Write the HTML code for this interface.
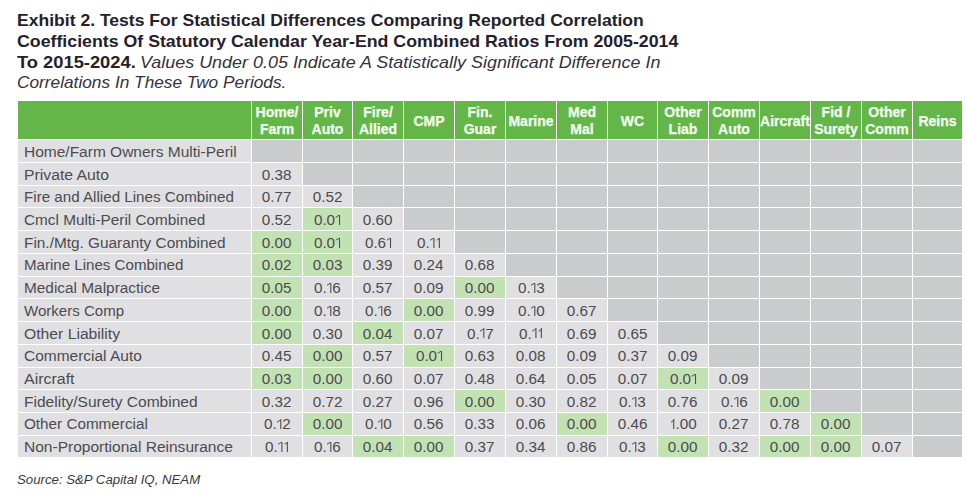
<!DOCTYPE html><html><head><meta charset="utf-8"><style>
html,body{margin:0;padding:0;background:#fff;width:967px;height:499px;overflow:hidden;position:relative;font-family:"Liberation Sans",sans-serif;}
.b{position:absolute;}
.t{position:absolute;white-space:nowrap;transform-origin:0 0;}
.h{position:absolute;white-space:nowrap;font-weight:bold;font-size:14px;line-height:14px;color:#f2fff0;text-align:center;-webkit-text-stroke:0.25px #f2fff0;}
.n{position:absolute;white-space:nowrap;font-size:14px;line-height:14px;color:#4b4b50;text-align:center;}
.o{display:inline-block;position:relative;width:5.10px;height:14px;vertical-align:top;color:transparent;}
.o::after{content:"";position:absolute;right:0.80px;top:1.9px;width:1.25px;height:10px;background:#4b4b50;}
.o::before{content:"";position:absolute;right:1.75px;top:2.2px;width:2.6px;height:1.25px;background:#4b4b50;transform:skewY(-35deg);transform-origin:100% 0;}
.l{position:absolute;white-space:nowrap;font-size:14px;line-height:14px;color:#4b4b50;transform-origin:0 0;}
</style></head><body>
<div class="t" style="left:17px;top:11.6px;font-size:17px;line-height:17px;color:#24212b;transform:scaleX(1.0325);"><b>Exhibit 2. Tests For Statistical Differences Comparing Reported Correlation</b></div>
<div class="t" style="left:17px;top:32.6px;font-size:17px;line-height:17px;color:#24212b;transform:scaleX(1.0438);"><b>Coefficients Of Statutory Calendar Year-End Combined Ratios From 2005-2014</b></div>
<div class="t" style="left:17px;top:53.6px;font-size:17px;line-height:17px;color:#24212b;transform:scaleX(1.0770);"><b>To 2015-2024.</b></div>
<div class="t" style="left:140px;top:53.6px;font-size:17px;line-height:17px;color:#24212b;transform:scaleX(1.0550)"><i style="color:#34323c">Values Under 0.05 Indicate A Statistically Significant Difference In</i></div>
<div class="t" style="left:17px;top:73.6px;font-size:17px;line-height:17px;color:#24212b;transform:scaleX(1.0157);"><i style="color:#34323c">Correlations In These Two Periods.</i></div>
<div class="b" style="left:18px;top:101px;width:944px;height:38px;background:#64b649"></div>
<div class="b" style="left:251px;top:101px;width:1px;height:355px;background:#fff"></div>
<div class="b" style="left:302px;top:101px;width:1px;height:355px;background:#fff"></div>
<div class="b" style="left:352px;top:101px;width:1px;height:355px;background:#fff"></div>
<div class="b" style="left:403px;top:101px;width:1px;height:355px;background:#fff"></div>
<div class="b" style="left:454px;top:101px;width:1px;height:355px;background:#fff"></div>
<div class="b" style="left:505px;top:101px;width:1px;height:355px;background:#fff"></div>
<div class="b" style="left:556px;top:101px;width:1px;height:355px;background:#fff"></div>
<div class="b" style="left:607px;top:101px;width:1px;height:355px;background:#fff"></div>
<div class="b" style="left:657px;top:101px;width:1px;height:355px;background:#fff"></div>
<div class="b" style="left:708px;top:101px;width:1px;height:355px;background:#fff"></div>
<div class="b" style="left:759px;top:101px;width:1px;height:355px;background:#fff"></div>
<div class="b" style="left:810px;top:101px;width:1px;height:355px;background:#fff"></div>
<div class="b" style="left:861px;top:101px;width:1px;height:355px;background:#fff"></div>
<div class="b" style="left:912px;top:101px;width:1px;height:355px;background:#fff"></div>
<div class="h" style="left:252px;top:105.05px;width:50px">Home/</div>
<div class="h" style="left:252px;top:122.45px;width:50px">Farm</div>
<div class="h" style="left:303px;top:105.05px;width:49px">Priv</div>
<div class="h" style="left:303px;top:122.45px;width:49px">Auto</div>
<div class="h" style="left:353px;top:105.05px;width:50px">Fire/</div>
<div class="h" style="left:353px;top:122.45px;width:50px">Allied</div>
<div class="h" style="left:404px;top:114.35px;width:50px">CMP</div>
<div class="h" style="left:455px;top:105.05px;width:50px">Fin.</div>
<div class="h" style="left:455px;top:122.45px;width:50px">Guar</div>
<div class="h" style="left:506px;top:114.35px;width:50px">Marine</div>
<div class="h" style="left:557px;top:105.05px;width:50px">Med</div>
<div class="h" style="left:557px;top:122.45px;width:50px">Mal</div>
<div class="h" style="left:608px;top:114.35px;width:49px">WC</div>
<div class="h" style="left:658px;top:105.05px;width:50px">Other</div>
<div class="h" style="left:658px;top:122.45px;width:50px">Liab</div>
<div class="h" style="left:709px;top:105.05px;width:50px">Comm</div>
<div class="h" style="left:709px;top:122.45px;width:50px">Auto</div>
<div class="h" style="left:760px;top:114.35px;width:50px">Aircraft</div>
<div class="h" style="left:811px;top:105.05px;width:50px">Fid /</div>
<div class="h" style="left:811px;top:122.45px;width:50px">Surety</div>
<div class="h" style="left:862px;top:105.05px;width:50px">Other</div>
<div class="h" style="left:862px;top:122.45px;width:50px">Comm</div>
<div class="h" style="left:913px;top:114.35px;width:49px">Reins</div>
<div class="b" style="left:18px;top:140px;width:233px;height:22px;background:#e0e0e2"></div>
<div class="l" style="left:23.7px;top:145.00px;transform:scaleX(1.107)">Home/Farm Owners Multi-Peril</div>
<div class="b" style="left:252px;top:140px;width:50px;height:22px;background:#cacbcd"></div>
<div class="b" style="left:303px;top:140px;width:49px;height:22px;background:#cacbcd"></div>
<div class="b" style="left:353px;top:140px;width:50px;height:22px;background:#cacbcd"></div>
<div class="b" style="left:404px;top:140px;width:50px;height:22px;background:#cacbcd"></div>
<div class="b" style="left:455px;top:140px;width:50px;height:22px;background:#cacbcd"></div>
<div class="b" style="left:506px;top:140px;width:50px;height:22px;background:#cacbcd"></div>
<div class="b" style="left:557px;top:140px;width:50px;height:22px;background:#cacbcd"></div>
<div class="b" style="left:608px;top:140px;width:49px;height:22px;background:#cacbcd"></div>
<div class="b" style="left:658px;top:140px;width:50px;height:22px;background:#cacbcd"></div>
<div class="b" style="left:709px;top:140px;width:50px;height:22px;background:#cacbcd"></div>
<div class="b" style="left:760px;top:140px;width:50px;height:22px;background:#cacbcd"></div>
<div class="b" style="left:811px;top:140px;width:50px;height:22px;background:#cacbcd"></div>
<div class="b" style="left:862px;top:140px;width:50px;height:22px;background:#cacbcd"></div>
<div class="b" style="left:913px;top:140px;width:49px;height:22px;background:#cacbcd"></div>
<div class="b" style="left:18px;top:163px;width:233px;height:22px;background:#e0e0e2"></div>
<div class="l" style="left:23.7px;top:167.70px;transform:scaleX(1.126)">Private Auto</div>
<div class="b" style="left:252px;top:163px;width:50px;height:22px;background:#e0e0e2"></div>
<div class="n" style="left:252px;top:167.70px;width:50px"><span style="display:inline-block;transform:scaleX(1.09)">0.38</span></div>
<div class="b" style="left:303px;top:163px;width:49px;height:22px;background:#cacbcd"></div>
<div class="b" style="left:353px;top:163px;width:50px;height:22px;background:#cacbcd"></div>
<div class="b" style="left:404px;top:163px;width:50px;height:22px;background:#cacbcd"></div>
<div class="b" style="left:455px;top:163px;width:50px;height:22px;background:#cacbcd"></div>
<div class="b" style="left:506px;top:163px;width:50px;height:22px;background:#cacbcd"></div>
<div class="b" style="left:557px;top:163px;width:50px;height:22px;background:#cacbcd"></div>
<div class="b" style="left:608px;top:163px;width:49px;height:22px;background:#cacbcd"></div>
<div class="b" style="left:658px;top:163px;width:50px;height:22px;background:#cacbcd"></div>
<div class="b" style="left:709px;top:163px;width:50px;height:22px;background:#cacbcd"></div>
<div class="b" style="left:760px;top:163px;width:50px;height:22px;background:#cacbcd"></div>
<div class="b" style="left:811px;top:163px;width:50px;height:22px;background:#cacbcd"></div>
<div class="b" style="left:862px;top:163px;width:50px;height:22px;background:#cacbcd"></div>
<div class="b" style="left:913px;top:163px;width:49px;height:22px;background:#cacbcd"></div>
<div class="b" style="left:18px;top:186px;width:233px;height:21px;background:#e0e0e2"></div>
<div class="l" style="left:23.7px;top:190.40px;transform:scaleX(1.083)">Fire and Allied Lines Combined</div>
<div class="b" style="left:252px;top:186px;width:50px;height:21px;background:#e0e0e2"></div>
<div class="n" style="left:252px;top:190.40px;width:50px"><span style="display:inline-block;transform:scaleX(1.09)">0.77</span></div>
<div class="b" style="left:303px;top:186px;width:49px;height:21px;background:#e0e0e2"></div>
<div class="n" style="left:303px;top:190.40px;width:49px"><span style="display:inline-block;transform:scaleX(1.09)">0.52</span></div>
<div class="b" style="left:353px;top:186px;width:50px;height:21px;background:#cacbcd"></div>
<div class="b" style="left:404px;top:186px;width:50px;height:21px;background:#cacbcd"></div>
<div class="b" style="left:455px;top:186px;width:50px;height:21px;background:#cacbcd"></div>
<div class="b" style="left:506px;top:186px;width:50px;height:21px;background:#cacbcd"></div>
<div class="b" style="left:557px;top:186px;width:50px;height:21px;background:#cacbcd"></div>
<div class="b" style="left:608px;top:186px;width:49px;height:21px;background:#cacbcd"></div>
<div class="b" style="left:658px;top:186px;width:50px;height:21px;background:#cacbcd"></div>
<div class="b" style="left:709px;top:186px;width:50px;height:21px;background:#cacbcd"></div>
<div class="b" style="left:760px;top:186px;width:50px;height:21px;background:#cacbcd"></div>
<div class="b" style="left:811px;top:186px;width:50px;height:21px;background:#cacbcd"></div>
<div class="b" style="left:862px;top:186px;width:50px;height:21px;background:#cacbcd"></div>
<div class="b" style="left:913px;top:186px;width:49px;height:21px;background:#cacbcd"></div>
<div class="b" style="left:18px;top:208px;width:233px;height:22px;background:#e0e0e2"></div>
<div class="l" style="left:23.7px;top:213.10px;transform:scaleX(1.094)">Cmcl Multi-Peril Combined</div>
<div class="b" style="left:252px;top:208px;width:50px;height:22px;background:#e0e0e2"></div>
<div class="n" style="left:252px;top:213.10px;width:50px"><span style="display:inline-block;transform:scaleX(1.09)">0.52</span></div>
<div class="b" style="left:303px;top:208px;width:49px;height:22px;background:#c3e2b4"></div>
<div class="n" style="left:303px;top:213.10px;width:49px"><span style="display:inline-block;transform:scaleX(1.09)">0.0<span class="o">1</span></span></div>
<div class="b" style="left:353px;top:208px;width:50px;height:22px;background:#e0e0e2"></div>
<div class="n" style="left:353px;top:213.10px;width:50px"><span style="display:inline-block;transform:scaleX(1.09)">0.60</span></div>
<div class="b" style="left:404px;top:208px;width:50px;height:22px;background:#cacbcd"></div>
<div class="b" style="left:455px;top:208px;width:50px;height:22px;background:#cacbcd"></div>
<div class="b" style="left:506px;top:208px;width:50px;height:22px;background:#cacbcd"></div>
<div class="b" style="left:557px;top:208px;width:50px;height:22px;background:#cacbcd"></div>
<div class="b" style="left:608px;top:208px;width:49px;height:22px;background:#cacbcd"></div>
<div class="b" style="left:658px;top:208px;width:50px;height:22px;background:#cacbcd"></div>
<div class="b" style="left:709px;top:208px;width:50px;height:22px;background:#cacbcd"></div>
<div class="b" style="left:760px;top:208px;width:50px;height:22px;background:#cacbcd"></div>
<div class="b" style="left:811px;top:208px;width:50px;height:22px;background:#cacbcd"></div>
<div class="b" style="left:862px;top:208px;width:50px;height:22px;background:#cacbcd"></div>
<div class="b" style="left:913px;top:208px;width:49px;height:22px;background:#cacbcd"></div>
<div class="b" style="left:18px;top:231px;width:233px;height:22px;background:#e0e0e2"></div>
<div class="l" style="left:23.7px;top:235.80px;transform:scaleX(1.098)">Fin./Mtg. Guaranty Combined</div>
<div class="b" style="left:252px;top:231px;width:50px;height:22px;background:#c3e2b4"></div>
<div class="n" style="left:252px;top:235.80px;width:50px"><span style="display:inline-block;transform:scaleX(1.09)">0.00</span></div>
<div class="b" style="left:303px;top:231px;width:49px;height:22px;background:#c3e2b4"></div>
<div class="n" style="left:303px;top:235.80px;width:49px"><span style="display:inline-block;transform:scaleX(1.09)">0.0<span class="o">1</span></span></div>
<div class="b" style="left:353px;top:231px;width:50px;height:22px;background:#e0e0e2"></div>
<div class="n" style="left:353px;top:235.80px;width:50px"><span style="display:inline-block;transform:scaleX(1.09)">0.6<span class="o">1</span></span></div>
<div class="b" style="left:404px;top:231px;width:50px;height:22px;background:#e0e0e2"></div>
<div class="n" style="left:404px;top:235.80px;width:50px"><span style="display:inline-block;transform:scaleX(1.09)">0.<span class="o">1</span><span class="o">1</span></span></div>
<div class="b" style="left:455px;top:231px;width:50px;height:22px;background:#cacbcd"></div>
<div class="b" style="left:506px;top:231px;width:50px;height:22px;background:#cacbcd"></div>
<div class="b" style="left:557px;top:231px;width:50px;height:22px;background:#cacbcd"></div>
<div class="b" style="left:608px;top:231px;width:49px;height:22px;background:#cacbcd"></div>
<div class="b" style="left:658px;top:231px;width:50px;height:22px;background:#cacbcd"></div>
<div class="b" style="left:709px;top:231px;width:50px;height:22px;background:#cacbcd"></div>
<div class="b" style="left:760px;top:231px;width:50px;height:22px;background:#cacbcd"></div>
<div class="b" style="left:811px;top:231px;width:50px;height:22px;background:#cacbcd"></div>
<div class="b" style="left:862px;top:231px;width:50px;height:22px;background:#cacbcd"></div>
<div class="b" style="left:913px;top:231px;width:49px;height:22px;background:#cacbcd"></div>
<div class="b" style="left:18px;top:254px;width:233px;height:22px;background:#e0e0e2"></div>
<div class="l" style="left:23.7px;top:257.50px;transform:scaleX(1.078)">Marine Lines Combined</div>
<div class="b" style="left:252px;top:254px;width:50px;height:22px;background:#c3e2b4"></div>
<div class="n" style="left:252px;top:257.50px;width:50px"><span style="display:inline-block;transform:scaleX(1.09)">0.02</span></div>
<div class="b" style="left:303px;top:254px;width:49px;height:22px;background:#c3e2b4"></div>
<div class="n" style="left:303px;top:257.50px;width:49px"><span style="display:inline-block;transform:scaleX(1.09)">0.03</span></div>
<div class="b" style="left:353px;top:254px;width:50px;height:22px;background:#e0e0e2"></div>
<div class="n" style="left:353px;top:257.50px;width:50px"><span style="display:inline-block;transform:scaleX(1.09)">0.39</span></div>
<div class="b" style="left:404px;top:254px;width:50px;height:22px;background:#e0e0e2"></div>
<div class="n" style="left:404px;top:257.50px;width:50px"><span style="display:inline-block;transform:scaleX(1.09)">0.24</span></div>
<div class="b" style="left:455px;top:254px;width:50px;height:22px;background:#e0e0e2"></div>
<div class="n" style="left:455px;top:257.50px;width:50px"><span style="display:inline-block;transform:scaleX(1.09)">0.68</span></div>
<div class="b" style="left:506px;top:254px;width:50px;height:22px;background:#cacbcd"></div>
<div class="b" style="left:557px;top:254px;width:50px;height:22px;background:#cacbcd"></div>
<div class="b" style="left:608px;top:254px;width:49px;height:22px;background:#cacbcd"></div>
<div class="b" style="left:658px;top:254px;width:50px;height:22px;background:#cacbcd"></div>
<div class="b" style="left:709px;top:254px;width:50px;height:22px;background:#cacbcd"></div>
<div class="b" style="left:760px;top:254px;width:50px;height:22px;background:#cacbcd"></div>
<div class="b" style="left:811px;top:254px;width:50px;height:22px;background:#cacbcd"></div>
<div class="b" style="left:862px;top:254px;width:50px;height:22px;background:#cacbcd"></div>
<div class="b" style="left:913px;top:254px;width:49px;height:22px;background:#cacbcd"></div>
<div class="b" style="left:18px;top:277px;width:233px;height:21px;background:#e0e0e2"></div>
<div class="l" style="left:23.7px;top:281.20px;transform:scaleX(1.099)">Medical Malpractice</div>
<div class="b" style="left:252px;top:277px;width:50px;height:21px;background:#c3e2b4"></div>
<div class="n" style="left:252px;top:281.20px;width:50px"><span style="display:inline-block;transform:scaleX(1.09)">0.05</span></div>
<div class="b" style="left:303px;top:277px;width:49px;height:21px;background:#e0e0e2"></div>
<div class="n" style="left:303px;top:281.20px;width:49px"><span style="display:inline-block;transform:scaleX(1.09)">0.<span class="o">1</span>6</span></div>
<div class="b" style="left:353px;top:277px;width:50px;height:21px;background:#e0e0e2"></div>
<div class="n" style="left:353px;top:281.20px;width:50px"><span style="display:inline-block;transform:scaleX(1.09)">0.57</span></div>
<div class="b" style="left:404px;top:277px;width:50px;height:21px;background:#e0e0e2"></div>
<div class="n" style="left:404px;top:281.20px;width:50px"><span style="display:inline-block;transform:scaleX(1.09)">0.09</span></div>
<div class="b" style="left:455px;top:277px;width:50px;height:21px;background:#c3e2b4"></div>
<div class="n" style="left:455px;top:281.20px;width:50px"><span style="display:inline-block;transform:scaleX(1.09)">0.00</span></div>
<div class="b" style="left:506px;top:277px;width:50px;height:21px;background:#e0e0e2"></div>
<div class="n" style="left:506px;top:281.20px;width:50px"><span style="display:inline-block;transform:scaleX(1.09)">0.<span class="o">1</span>3</span></div>
<div class="b" style="left:557px;top:277px;width:50px;height:21px;background:#cacbcd"></div>
<div class="b" style="left:608px;top:277px;width:49px;height:21px;background:#cacbcd"></div>
<div class="b" style="left:658px;top:277px;width:50px;height:21px;background:#cacbcd"></div>
<div class="b" style="left:709px;top:277px;width:50px;height:21px;background:#cacbcd"></div>
<div class="b" style="left:760px;top:277px;width:50px;height:21px;background:#cacbcd"></div>
<div class="b" style="left:811px;top:277px;width:50px;height:21px;background:#cacbcd"></div>
<div class="b" style="left:862px;top:277px;width:50px;height:21px;background:#cacbcd"></div>
<div class="b" style="left:913px;top:277px;width:49px;height:21px;background:#cacbcd"></div>
<div class="b" style="left:18px;top:299px;width:233px;height:22px;background:#e0e0e2"></div>
<div class="l" style="left:23.7px;top:303.90px;transform:scaleX(1.075)">Workers Comp</div>
<div class="b" style="left:252px;top:299px;width:50px;height:22px;background:#c3e2b4"></div>
<div class="n" style="left:252px;top:303.90px;width:50px"><span style="display:inline-block;transform:scaleX(1.09)">0.00</span></div>
<div class="b" style="left:303px;top:299px;width:49px;height:22px;background:#e0e0e2"></div>
<div class="n" style="left:303px;top:303.90px;width:49px"><span style="display:inline-block;transform:scaleX(1.09)">0.<span class="o">1</span>8</span></div>
<div class="b" style="left:353px;top:299px;width:50px;height:22px;background:#e0e0e2"></div>
<div class="n" style="left:353px;top:303.90px;width:50px"><span style="display:inline-block;transform:scaleX(1.09)">0.<span class="o">1</span>6</span></div>
<div class="b" style="left:404px;top:299px;width:50px;height:22px;background:#c3e2b4"></div>
<div class="n" style="left:404px;top:303.90px;width:50px"><span style="display:inline-block;transform:scaleX(1.09)">0.00</span></div>
<div class="b" style="left:455px;top:299px;width:50px;height:22px;background:#e0e0e2"></div>
<div class="n" style="left:455px;top:303.90px;width:50px"><span style="display:inline-block;transform:scaleX(1.09)">0.99</span></div>
<div class="b" style="left:506px;top:299px;width:50px;height:22px;background:#e0e0e2"></div>
<div class="n" style="left:506px;top:303.90px;width:50px"><span style="display:inline-block;transform:scaleX(1.09)">0.<span class="o">1</span>0</span></div>
<div class="b" style="left:557px;top:299px;width:50px;height:22px;background:#e0e0e2"></div>
<div class="n" style="left:557px;top:303.90px;width:50px"><span style="display:inline-block;transform:scaleX(1.09)">0.67</span></div>
<div class="b" style="left:608px;top:299px;width:49px;height:22px;background:#cacbcd"></div>
<div class="b" style="left:658px;top:299px;width:50px;height:22px;background:#cacbcd"></div>
<div class="b" style="left:709px;top:299px;width:50px;height:22px;background:#cacbcd"></div>
<div class="b" style="left:760px;top:299px;width:50px;height:22px;background:#cacbcd"></div>
<div class="b" style="left:811px;top:299px;width:50px;height:22px;background:#cacbcd"></div>
<div class="b" style="left:862px;top:299px;width:50px;height:22px;background:#cacbcd"></div>
<div class="b" style="left:913px;top:299px;width:49px;height:22px;background:#cacbcd"></div>
<div class="b" style="left:18px;top:322px;width:233px;height:22px;background:#e0e0e2"></div>
<div class="l" style="left:23.7px;top:326.60px;transform:scaleX(1.122)">Other Liability</div>
<div class="b" style="left:252px;top:322px;width:50px;height:22px;background:#c3e2b4"></div>
<div class="n" style="left:252px;top:326.60px;width:50px"><span style="display:inline-block;transform:scaleX(1.09)">0.00</span></div>
<div class="b" style="left:303px;top:322px;width:49px;height:22px;background:#e0e0e2"></div>
<div class="n" style="left:303px;top:326.60px;width:49px"><span style="display:inline-block;transform:scaleX(1.09)">0.30</span></div>
<div class="b" style="left:353px;top:322px;width:50px;height:22px;background:#c3e2b4"></div>
<div class="n" style="left:353px;top:326.60px;width:50px"><span style="display:inline-block;transform:scaleX(1.09)">0.04</span></div>
<div class="b" style="left:404px;top:322px;width:50px;height:22px;background:#e0e0e2"></div>
<div class="n" style="left:404px;top:326.60px;width:50px"><span style="display:inline-block;transform:scaleX(1.09)">0.07</span></div>
<div class="b" style="left:455px;top:322px;width:50px;height:22px;background:#e0e0e2"></div>
<div class="n" style="left:455px;top:326.60px;width:50px"><span style="display:inline-block;transform:scaleX(1.09)">0.<span class="o">1</span>7</span></div>
<div class="b" style="left:506px;top:322px;width:50px;height:22px;background:#e0e0e2"></div>
<div class="n" style="left:506px;top:326.60px;width:50px"><span style="display:inline-block;transform:scaleX(1.09)">0.<span class="o">1</span><span class="o">1</span></span></div>
<div class="b" style="left:557px;top:322px;width:50px;height:22px;background:#e0e0e2"></div>
<div class="n" style="left:557px;top:326.60px;width:50px"><span style="display:inline-block;transform:scaleX(1.09)">0.69</span></div>
<div class="b" style="left:608px;top:322px;width:49px;height:22px;background:#e0e0e2"></div>
<div class="n" style="left:608px;top:326.60px;width:49px"><span style="display:inline-block;transform:scaleX(1.09)">0.65</span></div>
<div class="b" style="left:658px;top:322px;width:50px;height:22px;background:#cacbcd"></div>
<div class="b" style="left:709px;top:322px;width:50px;height:22px;background:#cacbcd"></div>
<div class="b" style="left:760px;top:322px;width:50px;height:22px;background:#cacbcd"></div>
<div class="b" style="left:811px;top:322px;width:50px;height:22px;background:#cacbcd"></div>
<div class="b" style="left:862px;top:322px;width:50px;height:22px;background:#cacbcd"></div>
<div class="b" style="left:913px;top:322px;width:49px;height:22px;background:#cacbcd"></div>
<div class="b" style="left:18px;top:345px;width:233px;height:22px;background:#e0e0e2"></div>
<div class="l" style="left:23.7px;top:349.30px;transform:scaleX(1.105)">Commercial Auto</div>
<div class="b" style="left:252px;top:345px;width:50px;height:22px;background:#e0e0e2"></div>
<div class="n" style="left:252px;top:349.30px;width:50px"><span style="display:inline-block;transform:scaleX(1.09)">0.45</span></div>
<div class="b" style="left:303px;top:345px;width:49px;height:22px;background:#c3e2b4"></div>
<div class="n" style="left:303px;top:349.30px;width:49px"><span style="display:inline-block;transform:scaleX(1.09)">0.00</span></div>
<div class="b" style="left:353px;top:345px;width:50px;height:22px;background:#e0e0e2"></div>
<div class="n" style="left:353px;top:349.30px;width:50px"><span style="display:inline-block;transform:scaleX(1.09)">0.57</span></div>
<div class="b" style="left:404px;top:345px;width:50px;height:22px;background:#c3e2b4"></div>
<div class="n" style="left:404px;top:349.30px;width:50px"><span style="display:inline-block;transform:scaleX(1.09)">0.0<span class="o">1</span></span></div>
<div class="b" style="left:455px;top:345px;width:50px;height:22px;background:#e0e0e2"></div>
<div class="n" style="left:455px;top:349.30px;width:50px"><span style="display:inline-block;transform:scaleX(1.09)">0.63</span></div>
<div class="b" style="left:506px;top:345px;width:50px;height:22px;background:#e0e0e2"></div>
<div class="n" style="left:506px;top:349.30px;width:50px"><span style="display:inline-block;transform:scaleX(1.09)">0.08</span></div>
<div class="b" style="left:557px;top:345px;width:50px;height:22px;background:#e0e0e2"></div>
<div class="n" style="left:557px;top:349.30px;width:50px"><span style="display:inline-block;transform:scaleX(1.09)">0.09</span></div>
<div class="b" style="left:608px;top:345px;width:49px;height:22px;background:#e0e0e2"></div>
<div class="n" style="left:608px;top:349.30px;width:49px"><span style="display:inline-block;transform:scaleX(1.09)">0.37</span></div>
<div class="b" style="left:658px;top:345px;width:50px;height:22px;background:#e0e0e2"></div>
<div class="n" style="left:658px;top:349.30px;width:50px"><span style="display:inline-block;transform:scaleX(1.09)">0.09</span></div>
<div class="b" style="left:709px;top:345px;width:50px;height:22px;background:#cacbcd"></div>
<div class="b" style="left:760px;top:345px;width:50px;height:22px;background:#cacbcd"></div>
<div class="b" style="left:811px;top:345px;width:50px;height:22px;background:#cacbcd"></div>
<div class="b" style="left:862px;top:345px;width:50px;height:22px;background:#cacbcd"></div>
<div class="b" style="left:913px;top:345px;width:49px;height:22px;background:#cacbcd"></div>
<div class="b" style="left:18px;top:368px;width:233px;height:21px;background:#e0e0e2"></div>
<div class="l" style="left:23.7px;top:372.00px;transform:scaleX(1.140)">Aircraft</div>
<div class="b" style="left:252px;top:368px;width:50px;height:21px;background:#c3e2b4"></div>
<div class="n" style="left:252px;top:372.00px;width:50px"><span style="display:inline-block;transform:scaleX(1.09)">0.03</span></div>
<div class="b" style="left:303px;top:368px;width:49px;height:21px;background:#c3e2b4"></div>
<div class="n" style="left:303px;top:372.00px;width:49px"><span style="display:inline-block;transform:scaleX(1.09)">0.00</span></div>
<div class="b" style="left:353px;top:368px;width:50px;height:21px;background:#e0e0e2"></div>
<div class="n" style="left:353px;top:372.00px;width:50px"><span style="display:inline-block;transform:scaleX(1.09)">0.60</span></div>
<div class="b" style="left:404px;top:368px;width:50px;height:21px;background:#e0e0e2"></div>
<div class="n" style="left:404px;top:372.00px;width:50px"><span style="display:inline-block;transform:scaleX(1.09)">0.07</span></div>
<div class="b" style="left:455px;top:368px;width:50px;height:21px;background:#e0e0e2"></div>
<div class="n" style="left:455px;top:372.00px;width:50px"><span style="display:inline-block;transform:scaleX(1.09)">0.48</span></div>
<div class="b" style="left:506px;top:368px;width:50px;height:21px;background:#e0e0e2"></div>
<div class="n" style="left:506px;top:372.00px;width:50px"><span style="display:inline-block;transform:scaleX(1.09)">0.64</span></div>
<div class="b" style="left:557px;top:368px;width:50px;height:21px;background:#e0e0e2"></div>
<div class="n" style="left:557px;top:372.00px;width:50px"><span style="display:inline-block;transform:scaleX(1.09)">0.05</span></div>
<div class="b" style="left:608px;top:368px;width:49px;height:21px;background:#e0e0e2"></div>
<div class="n" style="left:608px;top:372.00px;width:49px"><span style="display:inline-block;transform:scaleX(1.09)">0.07</span></div>
<div class="b" style="left:658px;top:368px;width:50px;height:21px;background:#c3e2b4"></div>
<div class="n" style="left:658px;top:372.00px;width:50px"><span style="display:inline-block;transform:scaleX(1.09)">0.0<span class="o">1</span></span></div>
<div class="b" style="left:709px;top:368px;width:50px;height:21px;background:#e0e0e2"></div>
<div class="n" style="left:709px;top:372.00px;width:50px"><span style="display:inline-block;transform:scaleX(1.09)">0.09</span></div>
<div class="b" style="left:760px;top:368px;width:50px;height:21px;background:#cacbcd"></div>
<div class="b" style="left:811px;top:368px;width:50px;height:21px;background:#cacbcd"></div>
<div class="b" style="left:862px;top:368px;width:50px;height:21px;background:#cacbcd"></div>
<div class="b" style="left:913px;top:368px;width:49px;height:21px;background:#cacbcd"></div>
<div class="b" style="left:18px;top:390px;width:233px;height:22px;background:#e0e0e2"></div>
<div class="l" style="left:23.7px;top:394.70px;transform:scaleX(1.110)">Fidelity/Surety Combined</div>
<div class="b" style="left:252px;top:390px;width:50px;height:22px;background:#e0e0e2"></div>
<div class="n" style="left:252px;top:394.70px;width:50px"><span style="display:inline-block;transform:scaleX(1.09)">0.32</span></div>
<div class="b" style="left:303px;top:390px;width:49px;height:22px;background:#e0e0e2"></div>
<div class="n" style="left:303px;top:394.70px;width:49px"><span style="display:inline-block;transform:scaleX(1.09)">0.72</span></div>
<div class="b" style="left:353px;top:390px;width:50px;height:22px;background:#e0e0e2"></div>
<div class="n" style="left:353px;top:394.70px;width:50px"><span style="display:inline-block;transform:scaleX(1.09)">0.27</span></div>
<div class="b" style="left:404px;top:390px;width:50px;height:22px;background:#e0e0e2"></div>
<div class="n" style="left:404px;top:394.70px;width:50px"><span style="display:inline-block;transform:scaleX(1.09)">0.96</span></div>
<div class="b" style="left:455px;top:390px;width:50px;height:22px;background:#c3e2b4"></div>
<div class="n" style="left:455px;top:394.70px;width:50px"><span style="display:inline-block;transform:scaleX(1.09)">0.00</span></div>
<div class="b" style="left:506px;top:390px;width:50px;height:22px;background:#e0e0e2"></div>
<div class="n" style="left:506px;top:394.70px;width:50px"><span style="display:inline-block;transform:scaleX(1.09)">0.30</span></div>
<div class="b" style="left:557px;top:390px;width:50px;height:22px;background:#e0e0e2"></div>
<div class="n" style="left:557px;top:394.70px;width:50px"><span style="display:inline-block;transform:scaleX(1.09)">0.82</span></div>
<div class="b" style="left:608px;top:390px;width:49px;height:22px;background:#e0e0e2"></div>
<div class="n" style="left:608px;top:394.70px;width:49px"><span style="display:inline-block;transform:scaleX(1.09)">0.<span class="o">1</span>3</span></div>
<div class="b" style="left:658px;top:390px;width:50px;height:22px;background:#e0e0e2"></div>
<div class="n" style="left:658px;top:394.70px;width:50px"><span style="display:inline-block;transform:scaleX(1.09)">0.76</span></div>
<div class="b" style="left:709px;top:390px;width:50px;height:22px;background:#e0e0e2"></div>
<div class="n" style="left:709px;top:394.70px;width:50px"><span style="display:inline-block;transform:scaleX(1.09)">0.<span class="o">1</span>6</span></div>
<div class="b" style="left:760px;top:390px;width:50px;height:22px;background:#c3e2b4"></div>
<div class="n" style="left:760px;top:394.70px;width:50px"><span style="display:inline-block;transform:scaleX(1.09)">0.00</span></div>
<div class="b" style="left:811px;top:390px;width:50px;height:22px;background:#cacbcd"></div>
<div class="b" style="left:862px;top:390px;width:50px;height:22px;background:#cacbcd"></div>
<div class="b" style="left:913px;top:390px;width:49px;height:22px;background:#cacbcd"></div>
<div class="b" style="left:18px;top:413px;width:233px;height:22px;background:#e0e0e2"></div>
<div class="l" style="left:23.7px;top:417.40px;transform:scaleX(1.090)">Other Commercial</div>
<div class="b" style="left:252px;top:413px;width:50px;height:22px;background:#e0e0e2"></div>
<div class="n" style="left:252px;top:417.40px;width:50px"><span style="display:inline-block;transform:scaleX(1.09)">0.<span class="o">1</span>2</span></div>
<div class="b" style="left:303px;top:413px;width:49px;height:22px;background:#c3e2b4"></div>
<div class="n" style="left:303px;top:417.40px;width:49px"><span style="display:inline-block;transform:scaleX(1.09)">0.00</span></div>
<div class="b" style="left:353px;top:413px;width:50px;height:22px;background:#e0e0e2"></div>
<div class="n" style="left:353px;top:417.40px;width:50px"><span style="display:inline-block;transform:scaleX(1.09)">0.<span class="o">1</span>0</span></div>
<div class="b" style="left:404px;top:413px;width:50px;height:22px;background:#e0e0e2"></div>
<div class="n" style="left:404px;top:417.40px;width:50px"><span style="display:inline-block;transform:scaleX(1.09)">0.56</span></div>
<div class="b" style="left:455px;top:413px;width:50px;height:22px;background:#e0e0e2"></div>
<div class="n" style="left:455px;top:417.40px;width:50px"><span style="display:inline-block;transform:scaleX(1.09)">0.33</span></div>
<div class="b" style="left:506px;top:413px;width:50px;height:22px;background:#e0e0e2"></div>
<div class="n" style="left:506px;top:417.40px;width:50px"><span style="display:inline-block;transform:scaleX(1.09)">0.06</span></div>
<div class="b" style="left:557px;top:413px;width:50px;height:22px;background:#c3e2b4"></div>
<div class="n" style="left:557px;top:417.40px;width:50px"><span style="display:inline-block;transform:scaleX(1.09)">0.00</span></div>
<div class="b" style="left:608px;top:413px;width:49px;height:22px;background:#e0e0e2"></div>
<div class="n" style="left:608px;top:417.40px;width:49px"><span style="display:inline-block;transform:scaleX(1.09)">0.46</span></div>
<div class="b" style="left:658px;top:413px;width:50px;height:22px;background:#e0e0e2"></div>
<div class="n" style="left:658px;top:417.40px;width:50px"><span style="display:inline-block;transform:scaleX(1.09)"><span class="o">1</span>.00</span></div>
<div class="b" style="left:709px;top:413px;width:50px;height:22px;background:#e0e0e2"></div>
<div class="n" style="left:709px;top:417.40px;width:50px"><span style="display:inline-block;transform:scaleX(1.09)">0.27</span></div>
<div class="b" style="left:760px;top:413px;width:50px;height:22px;background:#e0e0e2"></div>
<div class="n" style="left:760px;top:417.40px;width:50px"><span style="display:inline-block;transform:scaleX(1.09)">0.78</span></div>
<div class="b" style="left:811px;top:413px;width:50px;height:22px;background:#c3e2b4"></div>
<div class="n" style="left:811px;top:417.40px;width:50px"><span style="display:inline-block;transform:scaleX(1.09)">0.00</span></div>
<div class="b" style="left:862px;top:413px;width:50px;height:22px;background:#cacbcd"></div>
<div class="b" style="left:913px;top:413px;width:49px;height:22px;background:#cacbcd"></div>
<div class="b" style="left:18px;top:436px;width:233px;height:21px;background:#e0e0e2"></div>
<div class="l" style="left:23.7px;top:440.10px;transform:scaleX(1.109)">Non-Proportional Reinsurance</div>
<div class="b" style="left:252px;top:436px;width:50px;height:21px;background:#e0e0e2"></div>
<div class="n" style="left:252px;top:440.10px;width:50px"><span style="display:inline-block;transform:scaleX(1.09)">0.<span class="o">1</span><span class="o">1</span></span></div>
<div class="b" style="left:303px;top:436px;width:49px;height:21px;background:#e0e0e2"></div>
<div class="n" style="left:303px;top:440.10px;width:49px"><span style="display:inline-block;transform:scaleX(1.09)">0.<span class="o">1</span>6</span></div>
<div class="b" style="left:353px;top:436px;width:50px;height:21px;background:#c3e2b4"></div>
<div class="n" style="left:353px;top:440.10px;width:50px"><span style="display:inline-block;transform:scaleX(1.09)">0.04</span></div>
<div class="b" style="left:404px;top:436px;width:50px;height:21px;background:#c3e2b4"></div>
<div class="n" style="left:404px;top:440.10px;width:50px"><span style="display:inline-block;transform:scaleX(1.09)">0.00</span></div>
<div class="b" style="left:455px;top:436px;width:50px;height:21px;background:#e0e0e2"></div>
<div class="n" style="left:455px;top:440.10px;width:50px"><span style="display:inline-block;transform:scaleX(1.09)">0.37</span></div>
<div class="b" style="left:506px;top:436px;width:50px;height:21px;background:#e0e0e2"></div>
<div class="n" style="left:506px;top:440.10px;width:50px"><span style="display:inline-block;transform:scaleX(1.09)">0.34</span></div>
<div class="b" style="left:557px;top:436px;width:50px;height:21px;background:#e0e0e2"></div>
<div class="n" style="left:557px;top:440.10px;width:50px"><span style="display:inline-block;transform:scaleX(1.09)">0.86</span></div>
<div class="b" style="left:608px;top:436px;width:49px;height:21px;background:#e0e0e2"></div>
<div class="n" style="left:608px;top:440.10px;width:49px"><span style="display:inline-block;transform:scaleX(1.09)">0.<span class="o">1</span>3</span></div>
<div class="b" style="left:658px;top:436px;width:50px;height:21px;background:#c3e2b4"></div>
<div class="n" style="left:658px;top:440.10px;width:50px"><span style="display:inline-block;transform:scaleX(1.09)">0.00</span></div>
<div class="b" style="left:709px;top:436px;width:50px;height:21px;background:#e0e0e2"></div>
<div class="n" style="left:709px;top:440.10px;width:50px"><span style="display:inline-block;transform:scaleX(1.09)">0.32</span></div>
<div class="b" style="left:760px;top:436px;width:50px;height:21px;background:#c3e2b4"></div>
<div class="n" style="left:760px;top:440.10px;width:50px"><span style="display:inline-block;transform:scaleX(1.09)">0.00</span></div>
<div class="b" style="left:811px;top:436px;width:50px;height:21px;background:#c3e2b4"></div>
<div class="n" style="left:811px;top:440.10px;width:50px"><span style="display:inline-block;transform:scaleX(1.09)">0.00</span></div>
<div class="b" style="left:862px;top:436px;width:50px;height:21px;background:#e0e0e2"></div>
<div class="n" style="left:862px;top:440.10px;width:50px"><span style="display:inline-block;transform:scaleX(1.09)">0.07</span></div>
<div class="b" style="left:913px;top:436px;width:49px;height:21px;background:#cacbcd"></div>
<div class="t" style="left:17px;top:473.0px;font-size:13px;line-height:13px;color:#3a3a40;transform:scaleX(1.017)"><i>Source: S&amp;P Capital IQ, NEAM</i></div>
</body></html>
